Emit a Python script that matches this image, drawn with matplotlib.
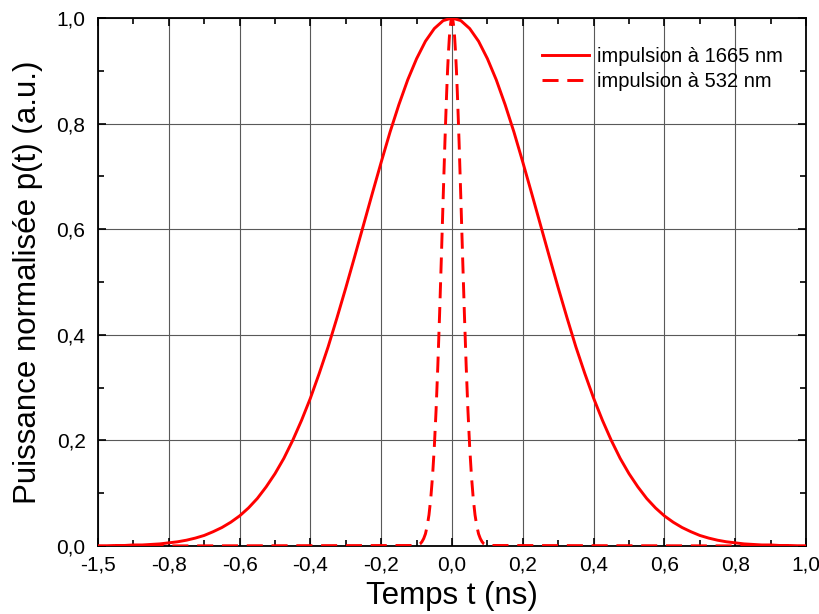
import numpy as np
import matplotlib
matplotlib.use("Agg")
import matplotlib.pyplot as plt
from matplotlib.ticker import FixedLocator, FixedFormatter, MultipleLocator

# pulse at 1665 nm, read every 0.025 ns from -1 to 1
t_1665 = np.linspace(-1.0, 1.0, 81)
p_1665 = [0.000, 0.000, 0.001, 0.001, 0.002, 0.002, 0.003, 0.004, 0.006, 0.008,
          0.011, 0.015, 0.020, 0.027, 0.035, 0.045, 0.057, 0.072, 0.090, 0.112,
          0.137, 0.166, 0.200, 0.238, 0.280, 0.327, 0.377, 0.432, 0.489, 0.548,
          0.608, 0.668, 0.727, 0.784, 0.836, 0.883, 0.923, 0.956, 0.980, 0.995,
          1.000,
          0.995, 0.980, 0.956, 0.923, 0.883, 0.836, 0.784, 0.727, 0.668, 0.608,
          0.548, 0.489, 0.432, 0.377, 0.327, 0.280, 0.238, 0.200, 0.166, 0.137,
          0.112, 0.090, 0.072, 0.057, 0.045, 0.035, 0.027, 0.020, 0.015, 0.011,
          0.008, 0.006, 0.004, 0.003, 0.002, 0.002, 0.001, 0.001, 0.000, 0.000]

# pulse at 532 nm, dense near the centre, flat at zero elsewhere
t_532 = [-1.0, -0.100, -0.095, -0.090, -0.085, -0.080, -0.075, -0.070, -0.065, -0.060,
         -0.055, -0.050, -0.045, -0.040, -0.035, -0.030, -0.025, -0.020, -0.0175, -0.015,
         -0.0125, -0.010, -0.0075, -0.005, -0.0025, 0.0,
         0.0025, 0.005, 0.0075, 0.010, 0.0125, 0.015, 0.0175, 0.020, 0.025, 0.030,
         0.035, 0.040, 0.045, 0.050, 0.055, 0.060, 0.065, 0.070, 0.075, 0.080,
         0.085, 0.090, 0.095, 0.100, 1.0]
p_532 = [0.000, 0.001, 0.002, 0.004, 0.008, 0.014, 0.023, 0.038, 0.059, 0.090,
         0.132, 0.187, 0.257, 0.342, 0.440, 0.547, 0.658, 0.765, 0.814, 0.860,
         0.901, 0.935, 0.963, 0.983, 0.996, 1.000,
         0.996, 0.983, 0.963, 0.935, 0.901, 0.860, 0.814, 0.765, 0.658, 0.547,
         0.440, 0.342, 0.257, 0.187, 0.132, 0.090, 0.059, 0.038, 0.023, 0.014,
         0.008, 0.004, 0.002, 0.001, 0.000]

x_ticks = [-1.0, -0.8, -0.6, -0.4, -0.2, 0.0, 0.2, 0.4, 0.6, 0.8, 1.0]
x_labels = ["-1,5", "-0,8", "-0,6", "-0,4", "-0,2", "0,0", "0,2", "0,4", "0,6", "0,8", "1,0"]
y_ticks = [0.0, 0.2, 0.4, 0.6, 0.8, 1.0]
y_labels = ["0,0", "0,2", "0,4", "0,6", "0,8", "1,0"]

plt.rcParams['font.family'] = ['Liberation Sans', 'DejaVu Sans']

fig = plt.figure(figsize=(8.19, 6.14), dpi=100)
ax = fig.add_axes([98/819, 1 - 546/614, 708/819, 528/614])

ax.plot(t_1665, p_1665, color='#ff0000', lw=2.1, label='impulsion à 1665 nm', zorder=3)
ax.plot(t_532, p_532, color='#ff0000', lw=2.1, dashes=(5.5, 3),
        label='impulsion à 532 nm', zorder=3)

ax.set_xlim(-1.0, 1.0)
ax.set_ylim(0.0, 1.0)

ax.xaxis.set_major_locator(FixedLocator(x_ticks))
ax.xaxis.set_major_formatter(FixedFormatter(x_labels))
ax.yaxis.set_major_locator(FixedLocator(y_ticks))
ax.yaxis.set_major_formatter(FixedFormatter(y_labels))
ax.xaxis.set_minor_locator(MultipleLocator(0.1))
ax.yaxis.set_minor_locator(MultipleLocator(0.1))

ax.tick_params(which='both', direction='in', top=True, right=True, width=1.2)
ax.tick_params(which='major', length=6, labelsize=15)
ax.tick_params(which='minor', length=4)
ax.tick_params(axis='x', which='major', pad=7)
ax.tick_params(axis='y', which='major', pad=9)

ax.grid(True, which='major', color='0.35', lw=0.8)
for s in ax.spines.values():
    s.set_linewidth(1.3)

ax.set_xlabel('Temps t (ns)', fontsize=22.5)
ax.set_ylabel('Puissance normalisée p(t) (a.u.)', fontsize=22.5)
ax.xaxis.set_label_coords(0.5, -0.066)
ax.yaxis.set_label_coords(-0.078, 0.5)

leg = ax.legend(loc='upper right', frameon=False, fontsize=14.5,
                handlelength=2.3, handletextpad=0.42, labelspacing=0.3,
                bbox_to_anchor=(0.993, 0.98))

fig.savefig('out.png', dpi=100)
